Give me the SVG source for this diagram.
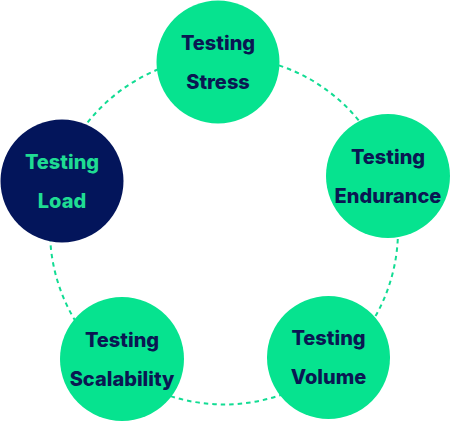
<svg xmlns="http://www.w3.org/2000/svg" width="450" height="421" viewBox="0 0 450 421">
<style>
.ring{fill:none;stroke:#12DC93;stroke-width:2;stroke-dasharray:4.5 4}
.node{fill:#06E38F}
.dark{fill:#03155B}
.t{font-family:Inter,"Open Sans","Liberation Sans",sans-serif;font-weight:800;font-size:20px;text-anchor:middle;fill:#0A1752}
.tl{fill:#1FDC93}
</style>
<rect width="450" height="421" fill="#FFFFFF"/>
<g id="connectors">
<circle class="ring" cx="224" cy="230.5" r="174"/>
</g>
<g id="stress">
<circle class="node" cx="218" cy="62" r="61.5"/>
<text class="t" x="218" y="50">Testing</text>
<text class="t" x="218" y="89">Stress</text>
</g>
<g id="load">
<circle class="dark" cx="62" cy="181" r="61.5"/>
<text class="t tl" x="62" y="169">Testing</text>
<text class="t tl" x="62" y="208">Load</text>
</g>
<g id="endurance">
<circle class="node" cx="388" cy="176" r="62"/>
<text class="t" x="388" y="164">Testing</text>
<text class="t" x="388" y="203">Endurance</text>
</g>
<g id="scalability">
<circle class="node" cx="122" cy="359" r="62"/>
<text class="t" x="122" y="347">Testing</text>
<text class="t" x="122" y="386">Scalability</text>
</g>
<g id="volume">
<circle class="node" cx="328.5" cy="357.5" r="61.5"/>
<text class="t" x="328.5" y="345">Testing</text>
<text class="t" x="328.5" y="384">Volume</text>
</g>
</svg>
